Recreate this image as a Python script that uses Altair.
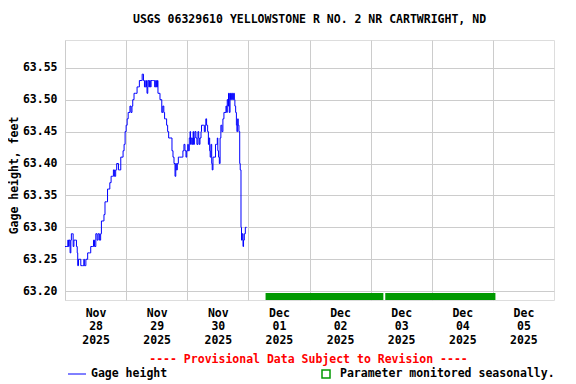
import altair as alt
import pandas as pd

TITLE = "USGS 06329610 YELLOWSTONE R NO. 2 NR CARTWRIGHT, ND"
NOTICE = "---- Provisional Data Subject to Revision ----"
LEGEND_LINE = "Gage height"
LEGEND_BOX = "Parameter monitored seasonally."
Y_TITLE = "Gage height, feet"

START = pd.Timestamp("2025-11-28 00:00:00")

# hours after Nov 28 00:00 and gage height (ft) at each change
HOURS = [
    0.0, 0.7, 1.1, 1.4, 1.6, 2.0, 2.3, 2.5, 2.9, 3.2,
    3.5, 4.0, 4.5, 4.8, 5.0, 5.3, 5.8, 6.2, 6.9, 7.4,
    7.6, 8.2, 8.7, 8.9, 9.7, 10.1, 10.9, 11.2, 11.6, 12.1,
    12.6, 13.0, 13.5, 14.0, 14.3, 15.0, 15.3, 15.7, 16.3, 16.7,
    17.2, 17.6, 18.1, 18.6, 19.0, 19.4, 19.9, 20.3, 21.0, 21.5,
    21.9, 22.4, 22.8, 23.2, 23.6, 24.0, 24.4, 24.8, 25.1, 25.5,
    25.9, 26.3, 26.6, 27.1, 27.6, 28.3, 28.8, 29.2, 29.9, 30.3,
    30.5, 30.8, 31.2, 31.7, 32.0, 32.2, 32.5, 32.9, 33.2, 33.5,
    33.8, 34.3, 34.8, 35.2, 35.6, 35.9, 36.3, 36.5, 36.9, 37.3,
    37.7, 38.0, 38.4, 38.8, 39.1, 39.5, 39.9, 40.3, 40.7, 41.6,
    42.0, 42.4, 42.8, 43.2, 43.5, 43.7, 44.1, 44.5, 45.0, 45.6,
    46.1, 46.3, 46.7, 47.1, 47.5, 47.8, 48.2, 48.4, 48.8, 49.1,
    49.3, 49.6, 50.0, 50.3, 50.5, 50.8, 51.0, 51.4, 51.8, 52.2,
    52.5, 52.7, 53.0, 53.4, 53.6, 54.3, 54.7, 55.1, 55.3, 55.6,
    56.0, 56.3, 56.5, 56.8, 57.0, 57.3, 57.6, 57.8, 58.1, 58.5,
    58.9, 59.1, 59.5, 59.8, 60.0, 60.3, 60.6, 60.9, 61.2, 61.6,
    62.0, 62.4, 62.8, 63.2, 63.5, 63.7, 64.0, 64.2, 64.5, 64.8,
    65.0, 65.4, 65.8, 66.2, 66.5, 66.7, 67.0, 67.3, 67.5, 67.8,
    68.0, 68.3, 68.6, 68.8, 69.1, 69.3, 69.6, 69.9, 70.1, 70.4,
    70.8, 71.3,
]
GAGE = [
    63.27, 63.27, 63.28, 63.27, 63.28, 63.26, 63.28, 63.29, 63.29, 63.27,
    63.28, 63.28, 63.27, 63.26, 63.24, 63.25, 63.25, 63.24, 63.24, 63.25,
    63.24, 63.25, 63.25, 63.26, 63.26, 63.27, 63.27, 63.28, 63.27, 63.29,
    63.28, 63.29, 63.28, 63.29, 63.31, 63.31, 63.32, 63.34, 63.34, 63.36,
    63.36, 63.37, 63.38, 63.38, 63.39, 63.38, 63.39, 63.40, 63.39, 63.39,
    63.41, 63.41, 63.42, 63.43, 63.45, 63.46, 63.47, 63.48, 63.48, 63.49,
    63.48, 63.49, 63.50, 63.51, 63.51, 63.52, 63.52, 63.53, 63.53, 63.54,
    63.54, 63.53, 63.52, 63.53, 63.52, 63.51, 63.53, 63.52, 63.53, 63.52,
    63.53, 63.53, 63.53, 63.52, 63.53, 63.52, 63.53, 63.51, 63.51, 63.50,
    63.50, 63.48, 63.49, 63.48, 63.47, 63.47, 63.46, 63.45, 63.44, 63.44,
    63.42, 63.41, 63.40, 63.38, 63.40, 63.39, 63.40, 63.41, 63.41, 63.41,
    63.41, 63.42, 63.43, 63.42, 63.41, 63.42, 63.43, 63.42, 63.44, 63.45,
    63.43, 63.44, 63.43, 63.45, 63.43, 63.44, 63.45, 63.44, 63.43, 63.45,
    63.44, 63.43, 63.44, 63.45, 63.46, 63.46, 63.45, 63.46, 63.47, 63.46,
    63.45, 63.43, 63.44, 63.42, 63.41, 63.43, 63.40, 63.39, 63.41, 63.41,
    63.41, 63.43, 63.43, 63.44, 63.42, 63.41, 63.40, 63.44, 63.46, 63.45,
    63.47, 63.48, 63.48, 63.49, 63.48, 63.50, 63.49, 63.51, 63.48, 63.51,
    63.50, 63.51, 63.50, 63.51, 63.50, 63.49, 63.48, 63.46, 63.45, 63.47,
    63.46, 63.45, 63.40, 63.39, 63.30, 63.28, 63.29, 63.27, 63.28, 63.29,
    63.30, 63.30,
]
assert len(HOURS) == len(GAGE)

# "Parameter monitored seasonally" bars (hours after Nov 28 00:00)
SEASON_START_H = [78.75, 125.75]
SEASON_END_H = [125.0, 169.0]
SEASON_BAND = [63.1862, 63.197]

Y_TICKS = [63.20, 63.25, 63.30, 63.35, 63.40, 63.45, 63.50, 63.55]
Y_DOMAIN = [63.1862, 63.5935]
DAY_TICKS_H = [0, 24, 48, 72, 96, 120, 144, 168]
X_DOMAIN_H = [0, 192]

FONT = "DejaVu Sans Mono"
FS = 11.5
W, H = 489, 260

LABEL_STYLE = dict(
    labelFont=FONT,
    labelFontSize=FS,
    labelFontWeight="bold",
    labelColor="black",
    gridColor="#cccccc",
    gridWidth=1,
    ticks=False,
    domain=False,
    labelOverlap=False,
)


def dt(h):
    t = START + pd.Timedelta(hours=h)
    return alt.DateTime(year=t.year, month=t.month, date=t.day, hours=t.hour, minutes=t.minute)


df = pd.DataFrame({"time": START + pd.to_timedelta(HOURS, unit="h"), "gage": GAGE})
season = pd.DataFrame({
    "t0": START + pd.to_timedelta(SEASON_START_H, unit="h"),
    "t1": START + pd.to_timedelta(SEASON_END_H, unit="h"),
    "lo": [SEASON_BAND[0]] * len(SEASON_START_H),
    "hi": [SEASON_BAND[1]] * len(SEASON_START_H),
})

xscale = alt.Scale(domain=[dt(h) for h in X_DOMAIN_H])
yscale = alt.Scale(domain=Y_DOMAIN, nice=False, zero=False)

xaxis = alt.Axis(
    values=[dt(h) for h in DAY_TICKS_H],
    labelExpr="[timeFormat(datum.value, '%b'), timeFormat(datum.value, '%d'), timeFormat(datum.value, '%Y')]",
    labelOffset=W / 16,
    labelPadding=7,
    labelLineHeight=13.5,
    labelFlush=False,
    labelBound=False,
    labelAlign="center",
    title=None,
    grid=True,
    **LABEL_STYLE,
)
yaxis = alt.Axis(
    values=Y_TICKS,
    format=".2f",
    labelPadding=8,
    title=Y_TITLE,
    titleFont=FONT,
    titleFontSize=FS,
    titleFontWeight="bold",
    titleColor="black",
    titleAngle=270,
    titleX=-51,
    titleY=135,
    titleAlign="center",
    titleBaseline="middle",
    grid=True,
    **LABEL_STYLE,
)

line = alt.Chart(df).mark_line(color="#0000ff", strokeWidth=1, interpolate="step-after").encode(
    x=alt.X("time:T", scale=xscale, axis=xaxis),
    y=alt.Y("gage:Q", scale=yscale, axis=yaxis),
)

bars = alt.Chart(season).mark_rect(color="#009900", clip=False).encode(
    x=alt.X("t0:T", scale=xscale, axis=xaxis),
    x2="t1:T",
    y=alt.Y("lo:Q", scale=yscale, axis=yaxis),
    y2="hi:Q",
)

one = alt.Data(values=[{}])


def text(txt, x, y, color="black", align="left"):
    return alt.Chart(one).mark_text(
        text=txt, font=FONT, fontSize=FS, fontWeight="bold", color=color,
        align=align, baseline="middle",
    ).encode(x=alt.value(x), y=alt.value(y))


title = text(TITLE, W / 2, -20, align="center")
notice = text(NOTICE, 243.5, 320, color="red", align="center")
leg1_line = alt.Chart(one).mark_rule(color="#0000ff", strokeWidth=1).encode(
    x=alt.value(3), x2=alt.value(21), y=alt.value(334)
)
leg1_text = text(LEGEND_LINE, 26, 334)
leg2_box = alt.Chart(one).mark_rect(fill=None, stroke="#009900", strokeWidth=1.5).encode(
    x=alt.value(257), x2=alt.value(265), y=alt.value(330), y2=alt.value(338)
)
leg2_text = text(LEGEND_BOX, 275, 334)

chart = alt.layer(
    line, bars, title, notice, leg1_line, leg1_text, leg2_box, leg2_text
).properties(
    width=W,
    height=H,
    autosize=alt.AutoSizeParams(type="none"),
    padding={"left": 57, "top": 32, "right": 14, "bottom": 84},
).configure_view(
    stroke="black", strokeWidth=1
).configure(background="white")

chart.save("out.html", embed_options={"renderer": "svg", "actions": False})
